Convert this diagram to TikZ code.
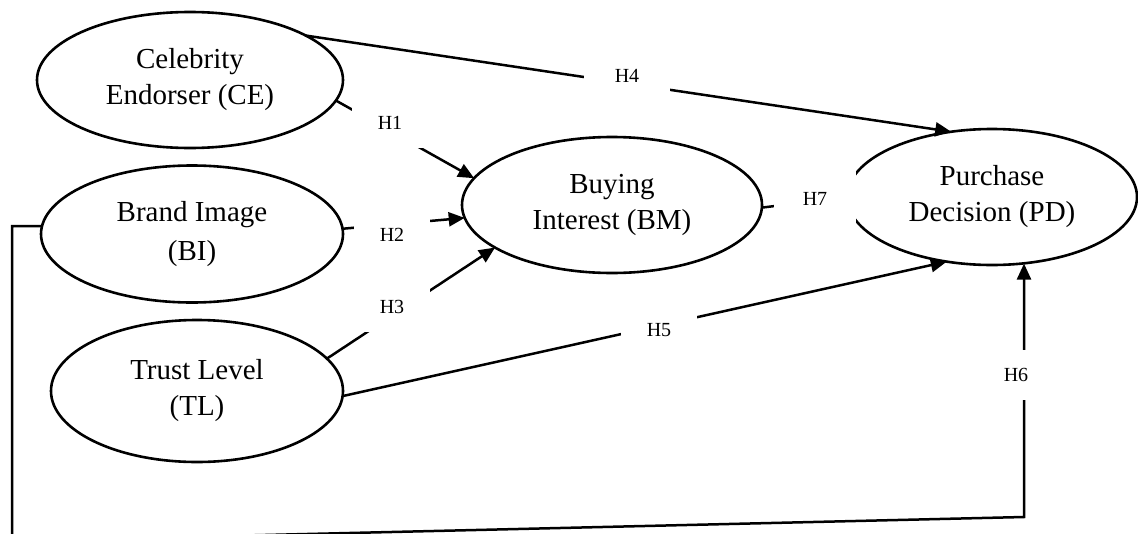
\documentclass[tikz,border=0pt]{standalone}
\usepackage{fontspec}
\setmainfont{Liberation Serif}
\usetikzlibrary{arrows.meta,shapes.geometric}
\begin{document}
\begin{tikzpicture}[x=1pt,y=-1pt,
  ell/.style={draw, ellipse, line width=2.6pt, inner sep=0pt, outer sep=0pt, align=center, font=\fontsize{29}{36}\selectfont},
  arr/.style={line width=2.5pt, -{Triangle[length=16pt,width=14pt]}},
  lbl/.style={fill=white, minimum width=76pt, minimum height=50pt, inner sep=0pt, font=\fontsize{20}{24}\selectfont}]
\useasboundingbox (0,0) rectangle (1138,533);
\clip (0,0) rectangle (1138,533);
% constructs
\node[ell, minimum width=306pt, minimum height=136pt] (CE) at (190,80) {Celebrity\\Endorser (CE)};
\node[ell, minimum width=302pt, minimum height=137pt, font=\fontsize{29}{39}\selectfont] (BI) at (192,234) {Brand Image\\(BI)};
\node[ell, minimum width=292pt, minimum height=142pt] (TL) at (197,391) {Trust Level\\(TL)};
\node[ell, minimum width=300pt, minimum height=136pt] (BM) at (612,205) {Buying\\Interest (BM)};
\node[ell, minimum width=290pt, minimum height=136pt] (PD) at (992,197) {Purchase\\Decision (PD)};
% paths
\draw[arr] (CE.-8) -- (BM.169);
\draw[arr] (BI.2) -- (BM.185);
\draw[arr] (TL.14) -- (BM.200);
\draw[arr] (CE.21) -- (PD.122);
\draw[arr] (TL.-2) -- (PD.235);
\draw[arr] (BM.-1) -- (PD.180);
\coordinate (c1) at (12,541);
\coordinate (c2) at (1024,517);
\draw[arr, line join=miter] (BI.177) -- (BI.177 -| c1) -- (c1) -- (c2) -- (PD.294 -| c2);
% labels
\node[lbl] (h1) at (390,123) {H1};
\node[lbl] (h2) at (392,235) {H2};
\node[lbl] (h3) at (392,307) {H3};
\node[lbl, minimum width=86pt] (h4) at (627,76) {H4};
\node[lbl] (h5) at (659,330) {H5};
\node[lbl] (h6) at (1016,375) {H6};
\node[lbl, minimum width=82pt, minimum height=56pt] (h7) at (815,199) {H7};
\end{tikzpicture}
\end{document}
